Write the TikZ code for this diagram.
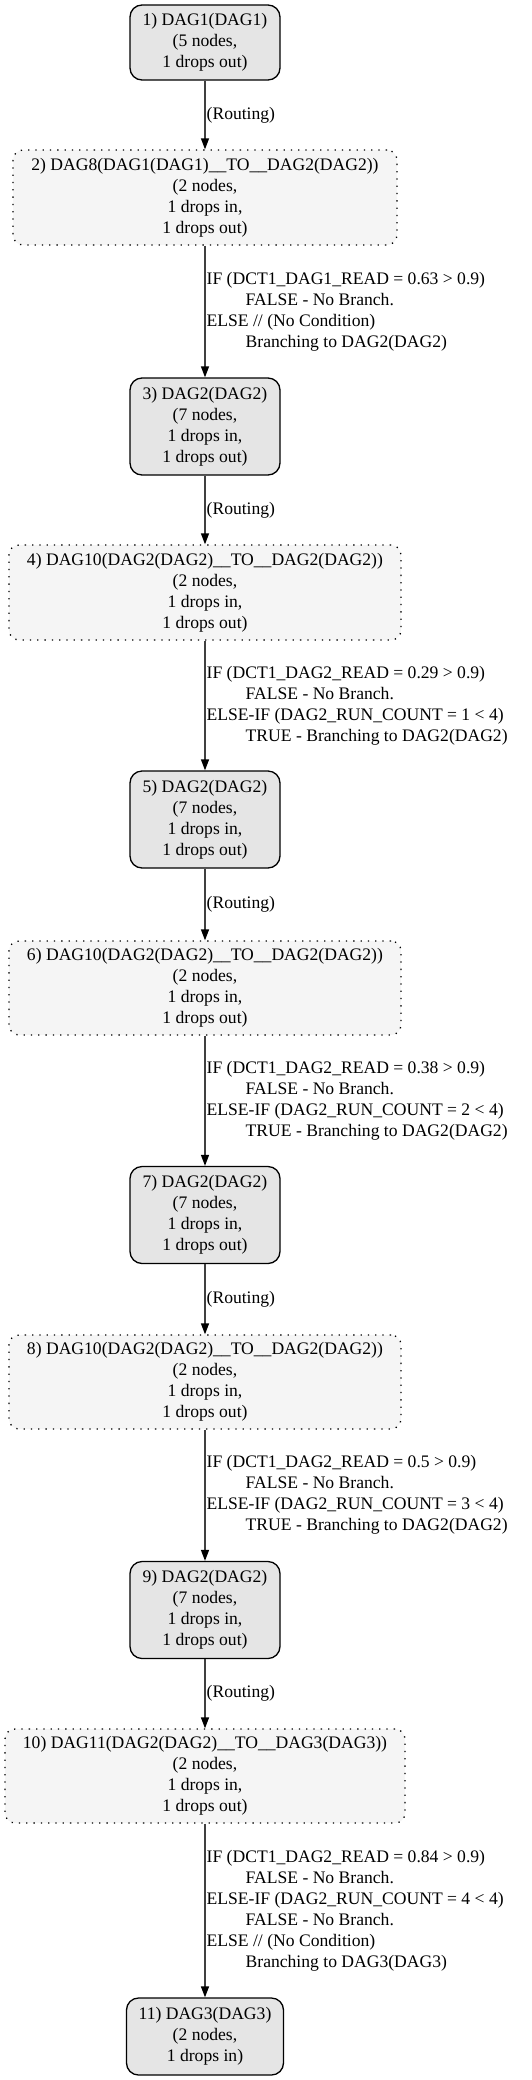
\documentclass[tikz,border=0pt]{standalone}
\usepackage{fontspec}
\setmainfont{Liberation Serif}
\usetikzlibrary{arrows.meta, positioning}

\tikzset{
  dagbox/.style={draw=black, fill=black!10, rounded corners=12pt, line width=1.3pt, align=center, minimum width=150pt, inner sep=0pt},
  linkbox/.style={draw=black, fill=black!4, rounded corners=10pt, line width=1.3pt, dash pattern=on 1.3pt off 6pt, align=center, inner sep=0pt},
  flow/.style={-{Triangle[length=11pt,width=8pt,black]}, draw=black!75, line width=1.3pt},
  cond/.style={right, align=left, inner sep=0pt, xshift=1pt},
}
\newcommand{\ind}{\hspace*{39pt}}

\begin{document}
\begin{tikzpicture}[x=1pt, y=-1pt, font=\fontsize{17.6}{21}\selectfont]
  \useasboundingbox (0,0) rectangle (531,2080);

  % dags and links
  \node[dagbox, minimum height=75pt] (d1) at (205,42.5) {1) DAG1(DAG1)\\(5 nodes,\\1 drops out)};
  \node[linkbox, minimum width=384pt, minimum height=95pt] (l2) at (205,197.5) {2) DAG8(DAG1(DAG1)\_\_TO\_\_DAG2(DAG2))\\(2 nodes,\\1 drops in,\\1 drops out)};
  \node[dagbox, minimum height=97pt] (d3) at (205,426.5) {3) DAG2(DAG2)\\(7 nodes,\\1 drops in,\\1 drops out)};
  \node[linkbox, minimum width=392pt, minimum height=95pt] (l4) at (205,592.5) {4) DAG10(DAG2(DAG2)\_\_TO\_\_DAG2(DAG2))\\(2 nodes,\\1 drops in,\\1 drops out)};
  \node[dagbox, minimum height=97pt] (d5) at (205,819.5) {5) DAG2(DAG2)\\(7 nodes,\\1 drops in,\\1 drops out)};
  \node[linkbox, minimum width=392pt, minimum height=94pt] (l6) at (205,988) {6) DAG10(DAG2(DAG2)\_\_TO\_\_DAG2(DAG2))\\(2 nodes,\\1 drops in,\\1 drops out)};
  \node[dagbox, minimum height=97pt] (d7) at (205,1215) {7) DAG2(DAG2)\\(7 nodes,\\1 drops in,\\1 drops out)};
  \node[linkbox, minimum width=392pt, minimum height=94pt] (l8) at (205,1382) {8) DAG10(DAG2(DAG2)\_\_TO\_\_DAG2(DAG2))\\(2 nodes,\\1 drops in,\\1 drops out)};
  \node[dagbox, minimum height=97pt] (d9) at (205,1610) {9) DAG2(DAG2)\\(7 nodes,\\1 drops in,\\1 drops out)};
  \node[linkbox, minimum width=400pt, minimum height=94pt] (l10) at (205,1776) {10) DAG11(DAG2(DAG2)\_\_TO\_\_DAG3(DAG3))\\(2 nodes,\\1 drops in,\\1 drops out)};
  \node[dagbox, minimum width=157pt, minimum height=77pt] (d11) at (205,2036.5) {11) DAG3(DAG3)\\(2 nodes,\\1 drops in)};

  % edges
  \draw[flow] (d1) -- node[cond] {(Routing)} (l2);
  \draw[flow] (l2) -- node[cond] {IF (DCT1\_DAG1\_READ = 0.63 > 0.9)\\\ind FALSE - No Branch.\\ELSE // (No Condition)\\\ind Branching to DAG2(DAG2)} (d3);
  \draw[flow] (d3) -- node[cond] {(Routing)} (l4);
  \draw[flow] (l4) -- node[cond] {IF (DCT1\_DAG2\_READ = 0.29 > 0.9)\\\ind FALSE - No Branch.\\ELSE-IF (DAG2\_RUN\_COUNT = 1 < 4)\\\ind TRUE - Branching to DAG2(DAG2)} (d5);
  \draw[flow] (d5) -- node[cond] {(Routing)} (l6);
  \draw[flow] (l6) -- node[cond] {IF (DCT1\_DAG2\_READ = 0.38 > 0.9)\\\ind FALSE - No Branch.\\ELSE-IF (DAG2\_RUN\_COUNT = 2 < 4)\\\ind TRUE - Branching to DAG2(DAG2)} (d7);
  \draw[flow] (d7) -- node[cond] {(Routing)} (l8);
  \draw[flow] (l8) -- node[cond] {IF (DCT1\_DAG2\_READ = 0.5 > 0.9)\\\ind FALSE - No Branch.\\ELSE-IF (DAG2\_RUN\_COUNT = 3 < 4)\\\ind TRUE - Branching to DAG2(DAG2)} (d9);
  \draw[flow] (d9) -- node[cond] {(Routing)} (l10);
  \draw[flow] (l10) -- node[cond] {IF (DCT1\_DAG2\_READ = 0.84 > 0.9)\\\ind FALSE - No Branch.\\ELSE-IF (DAG2\_RUN\_COUNT = 4 < 4)\\\ind FALSE - No Branch.\\ELSE // (No Condition)\\\ind Branching to DAG3(DAG3)} (d11);
\end{tikzpicture}
\end{document}
